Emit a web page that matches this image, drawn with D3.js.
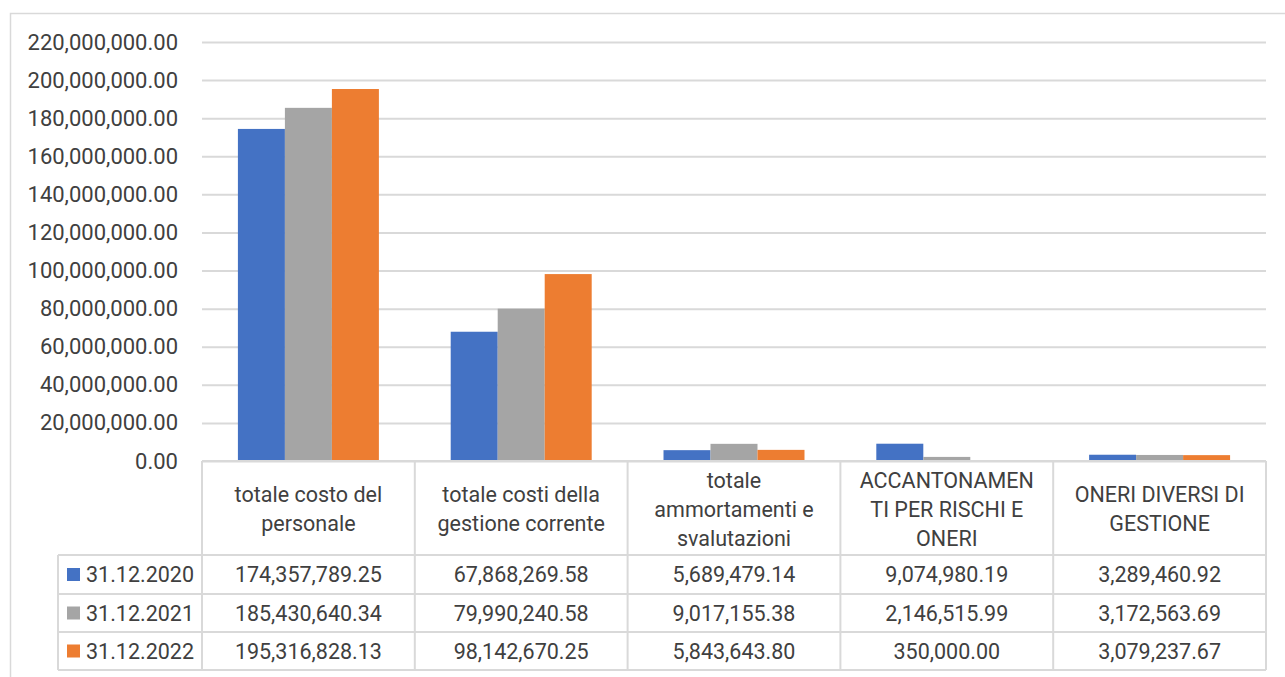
<!DOCTYPE html>
<html>
<head>
<meta charset="utf-8">
<script src="https://cdn.jsdelivr.net/npm/d3@7"></script>
<style>
  html, body { margin: 0; padding: 0; background: #ffffff; }
  svg { display: block; }
  text { font-family: Roboto, "Open Sans", sans-serif; fill: #404040; }
</style>
</head>
<body>
<svg id="chart" width="1285" height="677"></svg>
<script>
// ---- data ----
const categories = [
  "totale costo del personale",
  "totale costi della gestione corrente",
  "totale ammortamenti e svalutazioni",
  "ACCANTONAMENTI PER RISCHI E ONERI",
  "ONERI DIVERSI DI GESTIONE"
];
const categoryLines = [
  ["totale costo del", "personale"],
  ["totale costi della", "gestione corrente"],
  ["totale", "ammortamenti e", "svalutazioni"],
  ["ACCANTONAMEN", "TI PER RISCHI E", "ONERI"],
  ["ONERI DIVERSI DI", "GESTIONE"]
];
const seriesNames = ["31.12.2020", "31.12.2021", "31.12.2022"];
const values2020 = [174357789.25, 67868269.58, 5689479.14, 9074980.19, 3289460.92];
const values2021 = [185430640.34, 79990240.58, 9017155.38, 2146515.99, 3172563.69];
const values2022 = [195316828.13, 98142670.25, 5843643.80, 350000.00, 3079237.67];
const yTicks = [0, 20000000, 40000000, 60000000, 80000000, 100000000, 120000000,
                140000000, 160000000, 180000000, 200000000, 220000000];
const colors = ["#4472C4", "#A5A5A5", "#ED7D31"];

const series = [values2020, values2021, values2022];

// ---- layout ----
const svg = d3.select("#chart");
const plotLeft = 202, plotRight = 1266, plotTop = 42, plotBottom = 461;
const headerBottom = 555;
const rowYs = [555, 594, 632, 670];
const legendLeft = 58;
const gridColor = "#d9d9d9";
const fs = 21.5;

// outer frame
svg.append("rect")
  .attr("x", 10.5).attr("y", 13.5).attr("width", 1400).attr("height", 800)
  .attr("fill", "none").attr("stroke", gridColor).attr("stroke-width", 1.5);

const y = d3.scaleLinear().domain([0, 220000000]).range([plotBottom, plotTop]);
const x0 = d3.scaleBand().domain(categories).range([plotLeft, plotRight]).padding(0);
const x1 = d3.scaleBand().domain(seriesNames).range([0, x0.bandwidth()])
  .paddingInner(0).paddingOuter(0.764);

const fmt = d3.format(",.2f");

// gridlines + y labels via axis
const yAxis = d3.axisLeft(y).tickValues(yTicks).tickFormat(fmt)
  .tickSize(-(plotRight - plotLeft)).tickPadding(24);
const gy = svg.append("g").attr("transform", `translate(${plotLeft},0)`).call(yAxis);
gy.select(".domain").remove();
gy.selectAll(".tick line").attr("stroke", gridColor).attr("stroke-width", 2);
gy.selectAll(".tick text")
  .attr("font-size", 22).attr("fill", "#404040")
  .style("font-family", "Roboto, sans-serif");

// bars
const g = svg.append("g");
categories.forEach((c, ci) => {
  series.forEach((vals, si) => {
    g.append("rect")
      .attr("x", x0(c) + x1(seriesNames[si]))
      .attr("y", y(vals[ci]))
      .attr("width", x1.bandwidth())
      .attr("height", y(0) - y(vals[ci]))
      .attr("fill", colors[si]);
  });
});

// ---- data table ----
const t = svg.append("g");
const line = (x1_, y1_, x2_, y2_) => t.append("line")
  .attr("x1", x1_).attr("y1", y1_).attr("x2", x2_).attr("y2", y2_)
  .attr("stroke", gridColor).attr("stroke-width", 2);

// horizontal lines
line(plotLeft, plotBottom, plotRight, plotBottom);
rowYs.forEach(ry => line(legendLeft, ry, plotRight, ry));
// vertical lines
line(legendLeft, headerBottom, legendLeft, rowYs[3]);
categories.forEach(c => line(x0(c), plotBottom, x0(c), rowYs[3]));
line(plotRight, plotBottom, plotRight, rowYs[3]);

// header text
const lh = 29;
categories.forEach((c, ci) => {
  const lines = categoryLines[ci];
  const cx = x0(c) + x0.bandwidth() / 2;
  const cy = (plotBottom + headerBottom) / 2 + 1;
  const start = cy - (lines.length - 1) * lh / 2;
  const txt = t.append("text").attr("text-anchor", "middle").attr("font-size", fs);
  lines.forEach((l, li) => {
    txt.append("tspan").attr("x", cx).attr("y", start + li * lh)
      .attr("dy", "0.35em").text(l);
  });
});

// data rows
series.forEach((vals, si) => {
  const cy = (rowYs[si] + rowYs[si + 1]) / 2;
  t.append("rect").attr("x", 67).attr("y", cy - 6.5).attr("width", 13).attr("height", 13)
    .attr("fill", colors[si]);
  t.append("text").attr("x", 86).attr("y", cy).attr("dy", "0.35em")
    .attr("font-size", fs).text(seriesNames[si]);
  categories.forEach((c, ci) => {
    t.append("text").attr("x", x0(c) + x0.bandwidth() / 2).attr("y", cy)
      .attr("dy", "0.35em").attr("text-anchor", "middle")
      .attr("font-size", fs).text(fmt(vals[ci]));
  });
});
</script>
</body>
</html>
